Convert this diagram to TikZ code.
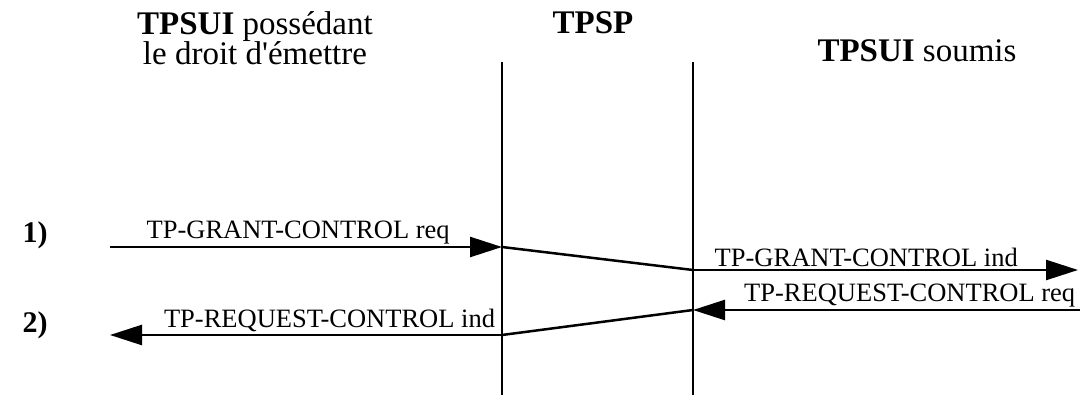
\documentclass[tikz,border=0pt]{standalone}
\usepackage{fontspec}
\setmainfont{Liberation Serif}
\usetikzlibrary{arrows.meta}

\tikzset{
  head/.style={font=\fontsize{33bp}{30bp}\selectfont, align=center, inner sep=0pt},
  row/.style={font=\fontsize{30bp}{30bp}\selectfont\bfseries, inner sep=0pt},
  lbl/.style={font=\fontsize{26.5bp}{28bp}\selectfont, inner sep=2bp},
  life/.style={line width=1.8bp, black},
  msg/.style={line width=2.5bp, black},
  tip/.style={-{Triangle[length=32bp,width=20bp]}}
}

\begin{document}
\begin{tikzpicture}
  \useasboundingbox (0bp,0bp) rectangle (1082bp,395bp);

  \node (hA) at (255bp,357bp) [head] {\textbf{TPSUI} possédant\\le droit d\textquotesingle émettre};
  \node (hB) at (593bp,372bp) [head] {\textbf{TPSP}};
  \node (hC) at (917bp,344bp) [head] {\textbf{TPSUI} soumis};

  \node (r1) at (35bp,160bp) [row] {1)};
  \node (r2) at (35bp,70bp)  [row] {2)};

  % lignes de vie
  \coordinate (Ltop) at (502bp,333bp);
  \coordinate (Lbot) at (502bp,0bp);
  \coordinate (Rtop) at (693bp,333bp);
  \coordinate (Rbot) at (693bp,0bp);
  \draw (Ltop) -- (Lbot) [life];
  \draw (Rtop) -- (Rbot) [life];

  % 1) grant
  \coordinate (a1) at (110bp,148bp);
  \coordinate (b1) at (502bp,148bp);
  \coordinate (c1) at (693bp,125bp);
  \coordinate (d1) at (1078bp,125bp);
  \draw (a1) -- (b1) [msg, tip] node[lbl, above, pos=.48] {TP-GRANT-CONTROL req};
  \draw (b1) -- (c1) [msg];
  \draw (c1) -- (d1) [msg, tip] node[lbl, above, pos=.45] {TP-GRANT-CONTROL ind};

  % 2) request
  \coordinate (d2) at (1080bp,85bp);
  \coordinate (c2) at (693bp,85bp);
  \coordinate (b2) at (502bp,60bp);
  \coordinate (a2) at (110bp,60bp);
  \draw (d2) -- (c2) [msg, tip] node[lbl, above, pos=.44] {TP-REQUEST-CONTROL req};
  \draw (c2) -- (b2) [msg];
  \draw (b2) -- (a2) [msg, tip] node[lbl, above, pos=.44] {TP-REQUEST-CONTROL ind};
\end{tikzpicture}
\end{document}
